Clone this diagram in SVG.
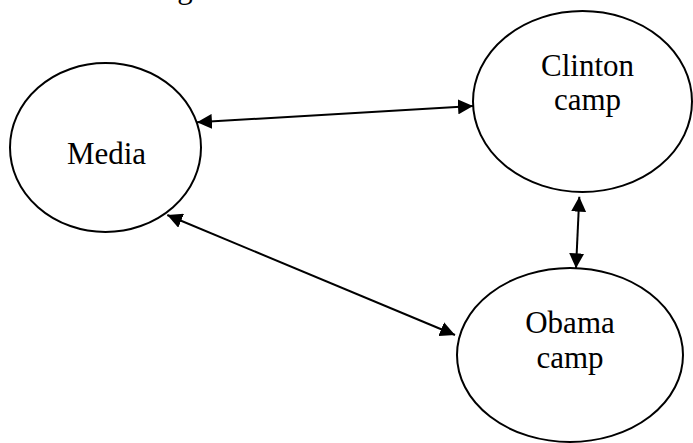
<svg xmlns="http://www.w3.org/2000/svg" width="693" height="443" viewBox="0 0 693 443">
  <style>
    .node ellipse { fill: #ffffff; stroke: #000000; stroke-width: 2; }
    .node text, .cut { font-family: "Liberation Serif", "Times New Roman", serif; font-size: 31px; fill: #000000; text-anchor: middle; }
    .edge { stroke: #000000; stroke-width: 2; fill: none; marker-start: url(#arrow); marker-end: url(#arrow); }
  </style>
  <defs>
    <marker id="arrow" viewBox="0 0 15 15" refX="15" refY="7.5" markerWidth="15" markerHeight="15" markerUnits="userSpaceOnUse" orient="auto-start-reverse">
      <path d="M0,0 L15,7.5 L0,15 z" fill="#000000"/>
    </marker>
  </defs>
  <rect width="693" height="443" fill="#ffffff"/>
  <text class="cut" x="185" y="-2.5">g</text>
  <g id="media" class="node">
    <ellipse cx="105.5" cy="147.5" rx="95.5" ry="84.5"/>
    <text x="106.5" y="164">Media</text>
  </g>
  <g id="clinton" class="node">
    <ellipse cx="582.5" cy="101.5" rx="109.5" ry="90.5"/>
    <text x="587.5" y="76">Clinton</text>
    <text x="587.5" y="110">camp</text>
  </g>
  <g id="obama" class="node">
    <ellipse cx="570" cy="355" rx="113" ry="87"/>
    <text x="570" y="333">Obama</text>
    <text x="570" y="368">camp</text>
  </g>
  <g id="connectors">
    <line class="edge" x1="197" y1="122.3" x2="473" y2="106"/>
    <line class="edge" x1="167.3" y1="215" x2="455" y2="335"/>
    <line class="edge" x1="579.3" y1="196.7" x2="576" y2="268.3"/>
  </g>
</svg>
